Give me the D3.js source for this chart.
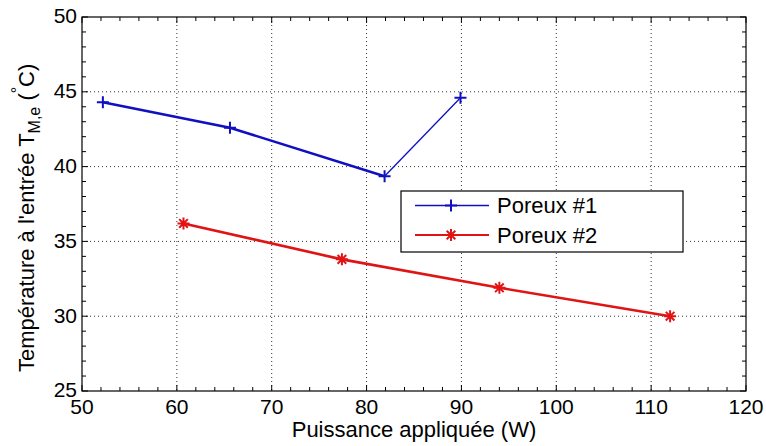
<!DOCTYPE html>
<html>
<head>
<meta charset="utf-8">
<script src="https://cdn.jsdelivr.net/npm/d3@7"></script>
<style>
  body { margin: 0; background: #fff; }
  text { font-family: Arial, "Liberation Sans", sans-serif; fill: #000; }
</style>
</head>
<body>
<div class="chart"></div>
<script>
// data
var seriesNames = ["Poreux #1", "Poreux #2"];
var poreux1X = [52.2, 65.6, 81.9, 89.9];
var poreux1Y = [44.3, 42.6, 39.35, 44.6];
var poreux2X = [60.7, 77.4, 94.0, 112.0];
var poreux2Y = [36.2, 33.8, 31.9, 30.0];
var xTicks = [50, 60, 70, 80, 90, 100, 110, 120];
var yTicks = [25, 30, 35, 40, 45, 50];

var Width = 766, Height = 446;
var Margin = {left: 82, right: 20, top: 17, bottom: 55};
var w = Width - Margin.left - Margin.right;
var h = Height - Margin.top - Margin.bottom;

var svg = d3.select(".chart").append("svg")
    .attr("width", Width)
    .attr("height", Height);

var g = svg.append("g")
    .attr("transform", "translate(" + Margin.left + "," + Margin.top + ")");

var x = d3.scaleLinear().domain([50, 120]).range([0, w]);
var y = d3.scaleLinear().domain([25, 50]).range([h, 0]);

// dotted grid
g.selectAll(".gx").data(xTicks.slice(1, -1)).enter().append("line")
    .attr("x1", d => x(d)).attr("x2", d => x(d))
    .attr("y1", 0).attr("y2", h)
    .style("stroke", "#333").style("stroke-width", 1)
    .style("stroke-dasharray", "1,3");
g.selectAll(".gy").data(yTicks.slice(1, -1)).enter().append("line")
    .attr("x1", 0).attr("x2", w)
    .attr("y1", d => y(d)).attr("y2", d => y(d))
    .style("stroke", "#333").style("stroke-width", 1)
    .style("stroke-dasharray", "1,3");

// minor + major ticks, inward, all four sides
var xMinor = d3.range(50, 120.01, 2);
var yMinor = d3.range(25, 50.01, 1);
function tickLen(v, major) { return major.indexOf(v) >= 0 ? 6 : 4; }
xMinor.forEach(function(v) {
  var L = tickLen(v, xTicks);
  g.append("line").attr("x1", x(v)).attr("x2", x(v)).attr("y1", h).attr("y2", h - L)
    .style("stroke", "#000");
  g.append("line").attr("x1", x(v)).attr("x2", x(v)).attr("y1", 0).attr("y2", L)
    .style("stroke", "#000");
});
yMinor.forEach(function(v) {
  var L = tickLen(v, yTicks);
  g.append("line").attr("x1", 0).attr("x2", L).attr("y1", y(v)).attr("y2", y(v))
    .style("stroke", "#000");
  g.append("line").attr("x1", w).attr("x2", w - L).attr("y1", y(v)).attr("y2", y(v))
    .style("stroke", "#000");
});

// box
g.append("rect").attr("width", w).attr("height", h)
    .style("fill", "none").style("stroke", "#000").style("stroke-width", 1.2);

// tick labels
g.selectAll(".xl").data(xTicks).enter().append("text")
    .attr("x", d => x(d)).attr("y", h + 23)
    .attr("text-anchor", "middle")
    .style("font-size", "21px")
    .text(d => d);
g.selectAll(".yl").data(yTicks).enter().append("text")
    .attr("x", -5).attr("y", d => y(d))
    .attr("dy", "0.3em")
    .attr("text-anchor", "end")
    .style("font-size", "21px")
    .text(d => d);

// axis labels
svg.append("text")
    .attr("x", Margin.left + w / 2).attr("y", 437)
    .attr("text-anchor", "middle")
    .style("font-size", "22px")
    .text("Puissance appliquée (W)");

var yl = svg.append("text")
    .attr("transform", "translate(34,372) rotate(-90)")
    .style("font-size", "22px");
yl.append("tspan").text("Température à l'entrée T");
yl.append("tspan").attr("dy", 6).style("font-size", "16px").text("M,e");
yl.append("tspan").attr("dy", -6).text(" (");
yl.append("tspan").attr("dy", -11).style("font-size", "16px").text("°");
yl.append("tspan").attr("dy", 11).text("C)");

// lines
var blue = "#1010c0", red = "#e01414";
var pts1 = poreux1X.map((v, i) => [v, poreux1Y[i]]);
var pts2 = poreux2X.map((v, i) => [v, poreux2Y[i]]);
var line = d3.line().x(d => x(d[0])).y(d => y(d[1]));

g.append("path").datum(pts1.slice(0, 3)).attr("d", line)
    .style("fill", "none").style("stroke", blue).style("stroke-width", 2.6);
g.append("path").datum(pts1.slice(2)).attr("d", line)
    .style("fill", "none").style("stroke", blue).style("stroke-width", 1.3);
g.append("path").datum(pts2).attr("d", line)
    .style("fill", "none").style("stroke", red).style("stroke-width", 2.6);

// markers
function plus(sel, cx, cy, col) {
  sel.append("path")
    .attr("d", "M" + (cx - 6) + "," + cy + "H" + (cx + 6) + "M" + cx + "," + (cy - 6) + "V" + (cy + 6))
    .style("stroke", col).style("stroke-width", 2).style("fill", "none");
}
function star(sel, cx, cy, col) {
  var r = 6, d = "M" + (cx - r) + "," + cy + "H" + (cx + r) + "M" + cx + "," + (cy - r) + "V" + (cy + r);
  var k = r * 0.72;
  d += "M" + (cx - k) + "," + (cy - k) + "L" + (cx + k) + "," + (cy + k);
  d += "M" + (cx - k) + "," + (cy + k) + "L" + (cx + k) + "," + (cy - k);
  sel.append("path").attr("d", d)
    .style("stroke", col).style("stroke-width", 2).style("fill", "none");
}
pts1.forEach(p => plus(g, x(p[0]), y(p[1]), blue));
pts2.forEach(p => star(g, x(p[0]), y(p[1]), red));

// legend
var lg = svg.append("g");
lg.append("rect").attr("x", 401).attr("y", 191).attr("width", 282).attr("height", 61)
    .style("fill", "#fff").style("stroke", "#000").style("stroke-width", 1.2);
var cols = [blue, red];
[205.5, 235].forEach(function(ly, i) {
  lg.append("line").attr("x1", 415).attr("x2", 489).attr("y1", ly).attr("y2", ly)
    .style("stroke", cols[i]).style("stroke-width", i === 0 ? 1.5 : 2);
  if (i === 0) plus(lg, 451, ly, cols[i]); else star(lg, 451, ly, cols[i]);
  lg.append("text").attr("x", 497).attr("y", ly).attr("dy", "0.36em")
    .style("font-size", "22px").text(seriesNames[i]);
});
</script>
</body>
</html>
